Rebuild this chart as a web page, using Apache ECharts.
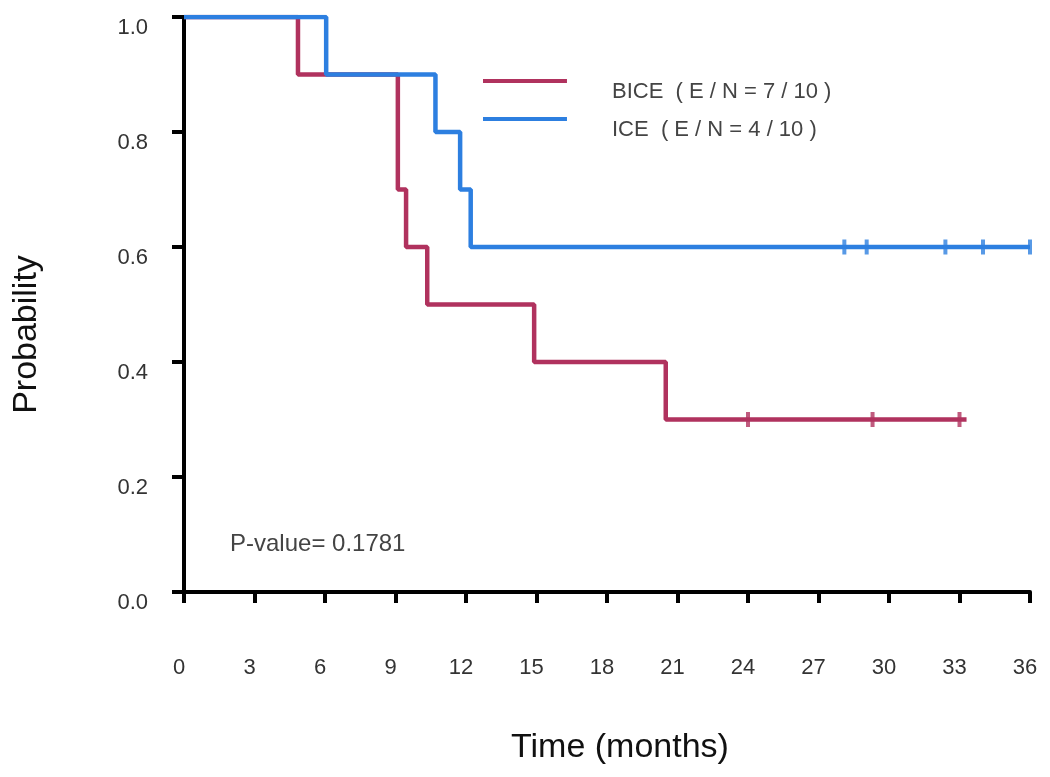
<!DOCTYPE html>
<html>
<head>
<meta charset="utf-8">
<script src="https://cdn.jsdelivr.net/npm/echarts@6/dist/echarts.min.js"></script>
<style>html,body{margin:0;padding:0;background:#fff;}#c{width:1050px;height:777px;}</style>
</head>
<body>
<div id="c"></div>
<script>
var xTicks = [0, 3, 6, 9, 12, 15, 18, 21, 24, 27, 30, 33, 36];
var yTicks = [0.0, 0.2, 0.4, 0.6, 0.8, 1.0];
var biceName = 'BICE  ( E / N = 7 / 10 )';
var iceName = 'ICE  ( E / N = 4 / 10 )';
var biceSteps = [[0, 1.0], [4.85, 0.9], [9.1, 0.7], [9.45, 0.6], [10.35, 0.5], [14.9, 0.4], [20.5, 0.3], [33.3, 0.3]];
var iceSteps = [[0, 1.0], [6.05, 0.9], [10.7, 0.8], [11.75, 0.7], [12.2, 0.6], [36.0, 0.6]];
var biceCensor = [[24.0, 0.3], [29.3, 0.3], [33.0, 0.3]];
var iceCensor = [[28.1, 0.6], [29.05, 0.6], [32.4, 0.6], [34.0, 0.6], [36.0, 0.6]];
var pText = 'P-value= 0.1781';

var red = '#b0325e';
var blue = '#2d7fe0';
var legendIcon = 'path://M0,0H84V4H0Z M0,26H0.01V26.01H0Z';
var chart = echarts.init(document.getElementById('c'), null, {renderer: 'canvas'});
chart.setOption({
  animation: false,
  backgroundColor: '#fff',
  textStyle: {fontFamily: 'Liberation Sans, Arial, sans-serif'},
  grid: {left: 184, right: 20, top: 17, bottom: 185, containLabel: false},
  title: {
    text: pText, left: 230, top: 532, padding: 0,
    textStyle: {fontSize: 24, fontWeight: 'normal', color: '#444', fontFamily: 'Liberation Sans, Arial, sans-serif'}
  },
  legend: {
    orient: 'vertical', left: 483, top: 79, padding: 0,
    itemWidth: 84, itemHeight: 26, itemGap: 12,
    icon: legendIcon,
    data: [{name: biceName}, {name: iceName}],
    textStyle: {fontSize: 22, color: '#444', padding: [0, 0, 0, 40]}
  },
  xAxis: {
    type: 'value', min: 0, max: 36, interval: 3,
    name: 'Time (months)', nameLocation: 'middle', nameGap: 139,
    nameTextStyle: {fontSize: 34, color: '#111', padding: [0, 0, 0, 26]},
    axisLine: {show: true, onZero: false, lineStyle: {color: '#000', width: 4}},
    axisTick: {show: true, length: 11, lineStyle: {color: '#000', width: 4}},
    axisLabel: {fontSize: 22, color: '#333', margin: 65, padding: [0, 10, 0, 0],
      customValues: xTicks, formatter: function (v) { return String(v); }},
    splitLine: {show: false}
  },
  yAxis: {
    type: 'value', min: 0, max: 1, interval: 0.2,
    name: 'Probability', nameLocation: 'middle', nameGap: 140, nameRotate: 90,
    nameTextStyle: {fontSize: 34, color: '#111', padding: [0, 60, 0, 0]},
    axisLine: {show: true, lineStyle: {color: '#000', width: 4}},
    axisTick: {show: true, length: 12, lineStyle: {color: '#000', width: 4}},
    axisLabel: {fontSize: 22, color: '#333', margin: 36, verticalAlign: 'top',
      customValues: yTicks, formatter: function (v) { return v.toFixed(1); }},
    splitLine: {show: false}
  },
  series: [
    {name: biceName, type: 'line', step: 'end', data: biceSteps, showSymbol: false, symbol: 'none',
      lineStyle: {color: red, width: 4.5}, itemStyle: {color: red}, z: 3},
    {name: iceName, type: 'line', step: 'end', data: iceSteps, showSymbol: false, symbol: 'none',
      lineStyle: {color: blue, width: 4.5}, itemStyle: {color: blue}, z: 4},
    {name: biceName, type: 'scatter', data: biceCensor, symbol: 'rect', symbolSize: [4, 15],
      itemStyle: {color: red}, z: 5},
    {name: iceName, type: 'scatter', data: iceCensor, symbol: 'rect', symbolSize: [4, 15],
      itemStyle: {color: blue}, z: 5}
  ]
});
</script>
</body>
</html>
